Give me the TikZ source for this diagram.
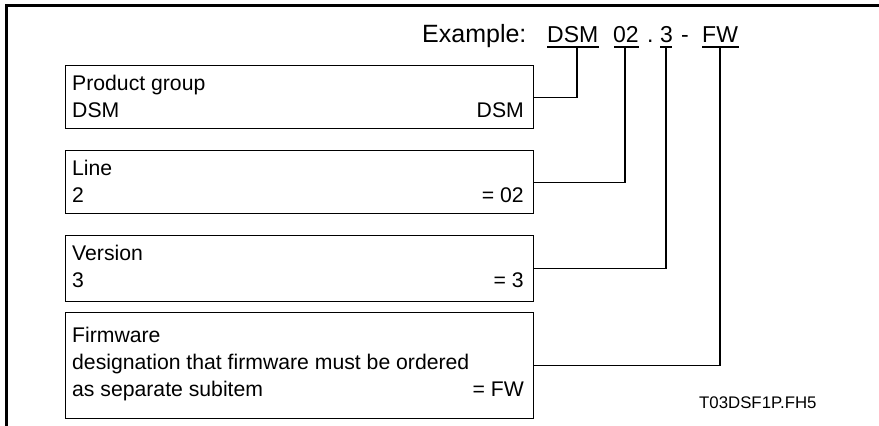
\documentclass[tikz,border=0pt]{standalone}
\usepackage{fontspec}
\setmainfont{Liberation Sans}
\begin{document}
\begin{tikzpicture}[x=1pt,y=-1pt,
  frameline/.style={line width=2.5pt},
  box/.style={draw, line width=1.1pt, inner sep=0pt, anchor=north west, minimum width=468pt},
  txt/.style={inner sep=0pt, anchor=base west, font=\fontsize{21.2}{25}\selectfont},
  rtxt/.style={inner sep=0pt, anchor=base east, font=\fontsize{21.2}{25}\selectfont},
  ex/.style={inner sep=0pt, anchor=base west, font=\fontsize{23}{27}\selectfont},
  uline/.style={line width=2pt},
  conn/.style={line width=1.1pt}]
\useasboundingbox (0,0) rectangle (879,426);
% outer frame
\coordinate (fTL) at (6.5,5.5);
\coordinate (fTR) at (879,5.5);
\coordinate (fBL) at (6.5,426);
\draw[frameline] (fTR) -- (fTL) -- (fBL);
% boxes
\node[box, minimum height=63pt] (b1) at (65,65) {};
\node[box, minimum height=63pt] (b2) at (65,150) {};
\node[box, minimum height=66pt] (b3) at (65,235) {};
\node[box, minimum height=106pt] (b4) at (65,312) {};
% box texts
\node[txt] (t1a) at (72,90) {Product group};
\node[txt] (t1b) at (72,117) {DSM};
\node[rtxt] (t1c) at (524,117) {DSM};
\node[txt] (t2a) at (72,175) {Line};
\node[txt] (t2b) at (72,202) {2};
\node[rtxt] (t2c) at (524,202) {= 02};
\node[txt] (t3a) at (72,260) {Version};
\node[txt] (t3b) at (72,287) {3};
\node[rtxt] (t3c) at (524,287) {= 3};
\node[txt] (t4a) at (72,342) {Firmware};
\node[txt] (t4b) at (72,369) {designation that firmware must be ordered};
\node[txt] (t4c) at (72,396) {as separate subitem};
\node[rtxt] (t4d) at (524,396) {= FW};
% example
\node[ex, font=\fontsize{25}{29}\selectfont] (exa) at (422,42) {Example:};
\node[ex] (exDSM) at (547,42) {DSM};
\node[ex] (ex02) at (613,42) {02};
\node[ex] (exdot) at (647,42) {.};
\node[ex] (ex3) at (660,42) {3};
\node[ex] (exdash) at (681,42) {-};
\node[ex] (exFW) at (702,42) {FW};
% underlines
\draw[uline] (547,47) -- (599,47);
\draw[uline] (614,47) -- (639,47);
\draw[uline] (660,47) -- (672,47);
\draw[uline] (702,47) -- (739,47);
\coordinate (cDSM) at (577,47);
\coordinate (c02) at (625,47);
\coordinate (c3) at (666,47);
\coordinate (cFW) at (720,47);
% connectors
\draw[conn] (b1.east) -| (cDSM);
\draw[conn] (b2.east) -| (c02);
\draw[conn] (b3.east) -| (c3);
\draw[conn] (b4.east) -| (cFW);
% label
\node[inner sep=0pt, anchor=base west, font=\fontsize{16.8}{20}\selectfont] (lbl) at (699,408) {T03DSF1P.FH5};
\end{tikzpicture}
\end{document}
